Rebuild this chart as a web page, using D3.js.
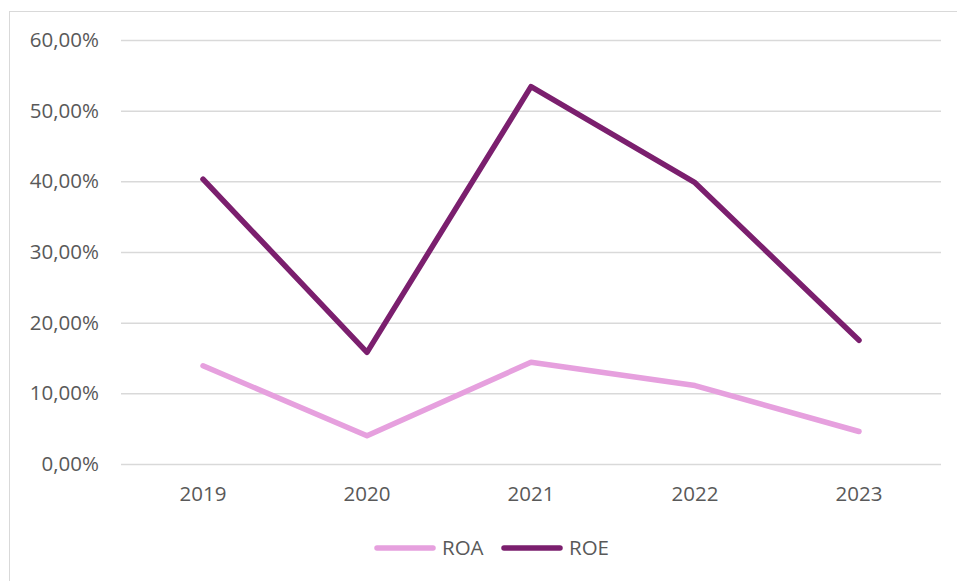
<!DOCTYPE html>
<html>
<head>
<meta charset="utf-8">
<script src="https://cdn.jsdelivr.net/npm/d3@7"></script>
<style>
  body { margin: 0; background: #fff; }
  svg text { font-family: "Open Sans", "Noto Sans", sans-serif; fill: #595959; }
</style>
</head>
<body>
<div id="chart"></div>
<script>
// data
const years = ["2019", "2020", "2021", "2022", "2023"];
const roa = [0.139, 0.040, 0.144, 0.111, 0.046];
const roe = [0.403, 0.158, 0.534, 0.398, 0.175];
const yTicks = [0, 0.1, 0.2, 0.3, 0.4, 0.5, 0.6];

const seriesNames = ["ROA", "ROE"];
const seriesColors = ["#e6a0de", "#7b1f6e"];

const width = 957, height = 581;
const margin = {top: 40, right: 16, bottom: 117, left: 121};
const fontSize = "20.5px";

const svg = d3.select("#chart").append("svg")
    .attr("width", width)
    .attr("height", height);

// chart border (runs off the right/bottom edge)
svg.append("rect")
    .attr("x", 9.5).attr("y", 11.5)
    .attr("width", width + 10).attr("height", height + 10)
    .attr("fill", "none")
    .attr("stroke", "#d9d9d9");

const x = d3.scaleBand()
    .domain(years)
    .range([margin.left, width - margin.right]);

const y = d3.scaleLinear()
    .domain([0, 0.6])
    .range([height - margin.bottom, margin.top]);

const pct = d => d3.format(".2f")(d * 100).replace(".", ",") + "%";

// gridlines + y labels
const yAxis = svg.append("g")
    .attr("transform", `translate(${margin.left},0)`)
    .call(d3.axisLeft(y).tickValues(yTicks).tickFormat(pct)
      .tickSize(-(width - margin.left - margin.right)).tickPadding(22));
yAxis.select(".domain").remove();
yAxis.selectAll(".tick line").attr("stroke", "#d9d9d9").attr("stroke-width", 1.5);
yAxis.selectAll(".tick text").style("font-size", fontSize);

// x labels
const xAxis = svg.append("g")
    .attr("transform", `translate(0,${height - margin.bottom})`)
    .call(d3.axisBottom(x).tickSize(0).tickPadding(22));
xAxis.select(".domain").remove();
xAxis.selectAll(".tick text").style("font-size", fontSize);

const line = d3.line()
    .x((d, i) => x(years[i]) + x.bandwidth() / 2)
    .y(d => y(d));

[roa, roe].forEach((vals, k) => {
  svg.append("path")
      .datum(vals)
      .attr("d", line)
      .attr("fill", "none")
      .attr("stroke", seriesColors[k])
      .attr("stroke-width", 5.5)
      .attr("stroke-linecap", "round")
      .attr("stroke-linejoin", "round");
});

// legend
const legendX = [377, 504];
const legend = svg.append("g").attr("transform", "translate(0,548)");
seriesNames.forEach((name, k) => {
  legend.append("line")
      .attr("x1", legendX[k]).attr("x2", legendX[k] + 56)
      .attr("y1", 0).attr("y2", 0)
      .attr("stroke", seriesColors[k])
      .attr("stroke-width", 5.5)
      .attr("stroke-linecap", "round");
  legend.append("text")
      .attr("x", legendX[k] + 65)
      .attr("y", 0)
      .attr("dy", "0.35em")
      .style("font-size", fontSize)
      .text(name);
});
</script>
</body>
</html>
